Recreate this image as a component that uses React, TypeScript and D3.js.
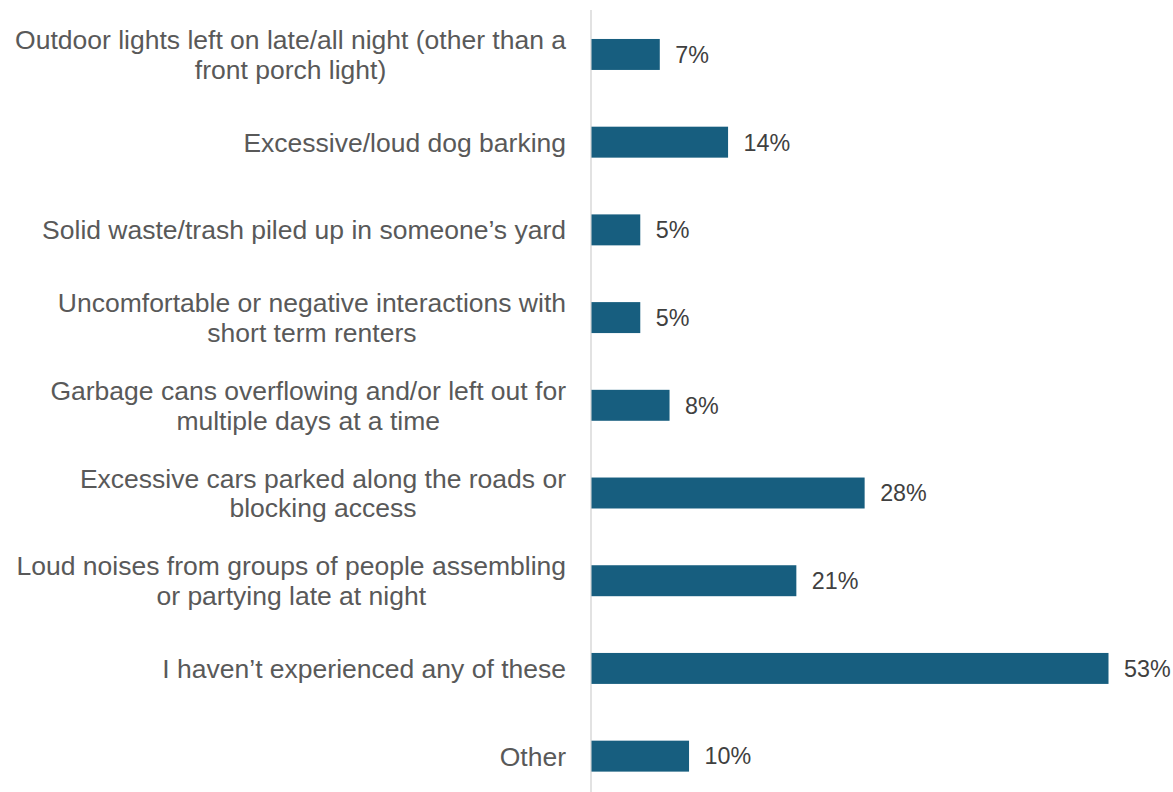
import React from "react";
import * as d3 from "d3";

const categories: string[] = [
  "Outdoor lights left on late/all night (other than a\nfront porch light)",
  "Excessive/loud dog barking",
  "Solid waste/trash piled up in someone\u2019s yard",
  "Uncomfortable or negative interactions with\nshort term renters",
  "Garbage cans overflowing and/or left out for\nmultiple days at a time",
  "Excessive cars parked along the roads or\nblocking access",
  "Loud noises from groups of people assembling\nor partying late at night",
  "I haven\u2019t experienced any of these",
  "Other",
];
const values: number[] = [7, 14, 5, 5, 8, 28, 21, 53, 10];

const W = 1173;
const H = 792;
const BAR = "#175e7f";
const FONT = "'Liberation Sans', Arial, sans-serif";

let ctx: CanvasRenderingContext2D | null = null;
function measure(text: string, fs: number): number {
  if (!ctx) ctx = document.createElement("canvas").getContext("2d");
  if (!ctx) return text.length * fs * 0.5;
  ctx.font = `${fs}px 'Liberation Sans', Arial, sans-serif`;
  return ctx.measureText(text).width;
}

export default function App() {
  const x = d3.scaleLinear().domain([0, 53]).range([591.5, 1108.5]);
  const y = d3
    .scaleBand<string>()
    .domain(categories)
    .range([10.6, 800])
    .paddingInner(0.647)
    .paddingOuter(0.3235);
  const labelFs = 26.5;
  const valFs = 23.3;
  const lh = 29.5;
  const right = 566;
  return (
    <svg
      width={W}
      height={H}
      style={{ position: "absolute", left: 0, top: 0, background: "#fff" }}
    >
      <line x1={591} x2={591} y1={10} y2={H} stroke="#d9d9d9" strokeWidth={1.5} />
      {categories.map((c, i) => {
        const y0 = y(c)!;
        const bw = y.bandwidth();
        const cy = y0 + bw / 2;
        const lines = c.split("\n");
        const maxW = Math.max(...lines.map((l) => measure(l, labelFs)));
        const cx = right - maxW / 2;
        return (
          <g key={c}>
            <rect x={x(0)} y={y0} width={x(values[i]) - x(0)} height={bw} fill={BAR} />
            <text
              x={x(values[i]) + 15.5}
              y={cy + valFs * 0.358}
              fontFamily={FONT}
              fontSize={valFs}
              fill="#404040"
            >
              {values[i]}%
            </text>
            {lines.map((ln, j) => (
              <text
                key={j}
                x={lines.length > 1 ? cx : right}
                y={cy + labelFs * 0.358 + (j - (lines.length - 1) / 2) * lh}
                textAnchor={lines.length > 1 ? "middle" : "end"}
                fontFamily={FONT}
                fontSize={labelFs}
                fill="#595959"
              >
                {ln}
              </text>
            ))}
          </g>
        );
      })}
    </svg>
  );
}
